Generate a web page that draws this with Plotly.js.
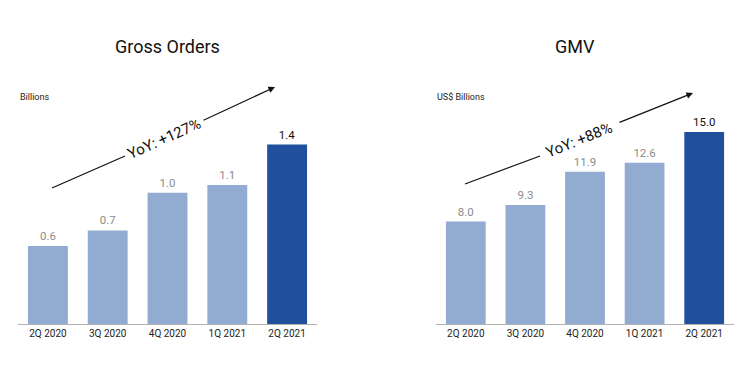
<!DOCTYPE html>
<html>
<head>
<meta charset="utf-8">
<script src="https://cdn.plot.ly/plotly-3.0.1.min.js"></script>
<style>html,body{margin:0;padding:0;background:#fff}#chart{width:742px;height:369px}</style>
</head>
<body>
<div id="chart"></div>
<script>
// Data
const quarters = ["2Q 2020", "3Q 2020", "4Q 2020", "1Q 2021", "2Q 2021"];
const grossOrders = [0.60, 0.72, 1.01, 1.07, 1.38];   // Billions
const gmv = [8.0, 9.3, 11.9, 12.6, 15.0];               // US$ Billions
const titles = ["Gross Orders", "GMV"];
const units = ["Billions", "US$ Billions"];
const yoy = ["YoY: +127%", "YoY: +88%"];

const W = 742, H = 369;
const px = x => x / W;
const py = y => 1 - y / H;

const light = "#92abd0", dark = "#1f4f9d";
const barColors = quarters.map((q, i) => i === quarters.length - 1 ? dark : light);
const textColors = quarters.map((q, i) => i === quarters.length - 1 ? "#111111" : "#8c8c8c");
const FONT = "Roboto, 'Open Sans', sans-serif";

const traces = [
  {type: "bar", x: quarters, y: grossOrders, xaxis: "x", yaxis: "y",
   marker: {color: barColors}, texttemplate: "%{y:.1f}", textposition: "outside",
   textfont: {color: textColors, size: 11.5, family: FONT}, cliponaxis: false, hoverinfo: "none"},
  {type: "bar", x: quarters, y: gmv, xaxis: "x2", yaxis: "y2",
   marker: {color: barColors}, texttemplate: "%{y:.1f}", textposition: "outside",
   textfont: {color: textColors, size: 11.5, family: FONT}, cliponaxis: false, hoverinfo: "none"}
];

const xCommon = {showline: true, linecolor: "#b0b0b0", linewidth: 1, ticks: "", showgrid: false,
  zeroline: false, tickfont: {size: 10, color: "#222", family: FONT}, fixedrange: true};
const yCommon = {visible: false, showgrid: false, zeroline: false, fixedrange: true,
  domain: [py(324), py(100)]};

function arrowParts(start, brk, resume, tip, label, angle, xref) {
  return {
    shape: {type: "line", xref: "paper", yref: "paper", x0: px(start[0]), y0: py(start[1]),
            x1: px(brk[0]), y1: py(brk[1]), line: {color: "#111", width: 1.2}},
    anns: [
      {xref: "paper", yref: "paper", x: px(tip[0]), y: py(tip[1]), text: "", showarrow: true,
       ax: resume[0] - tip[0], ay: resume[1] - tip[1], arrowhead: 2, arrowsize: 1.1, arrowwidth: 1.2, arrowcolor: "#111"},
      {xref: "paper", yref: "paper", x: px((brk[0] + resume[0]) / 2), y: py((brk[1] + resume[1]) / 2),
       text: label, showarrow: false, textangle: angle, xanchor: "center", yanchor: "middle",
       font: {size: 15, color: "#111", family: FONT}}
    ]
  };
}

const a1 = arrowParts([52, 188], [125, 156], [202, 121], [275, 87], yoy[0], -24);
const a2 = arrowParts([465, 184], [540, 156], [618, 123], [693, 93], yoy[1], -22);

const layout = {
  width: W, height: H, margin: {l: 0, r: 0, t: 0, b: 0},
  paper_bgcolor: "#fff", plot_bgcolor: "#fff", showlegend: false, bargap: 0.333,
  font: {family: FONT},
  xaxis: Object.assign({}, xCommon, {domain: [px(18), px(317)], anchor: "y"}),
  xaxis2: Object.assign({}, xCommon, {domain: [px(436), px(734)], anchor: "y2"}),
  yaxis: Object.assign({}, yCommon, {range: [0, 224 / 130], anchor: "x"}),
  yaxis2: Object.assign({}, yCommon, {range: [0, 224 / 12.8], anchor: "x2"}),
  shapes: [a1.shape, a2.shape],
  annotations: [
    {xref: "paper", yref: "paper", x: px(167), y: py(46), text: titles[0], showarrow: false,
     xanchor: "center", yanchor: "middle", font: {size: 18, color: "#111", family: FONT}},
    {xref: "paper", yref: "paper", x: px(575), y: py(46), text: titles[1], showarrow: false,
     xanchor: "center", yanchor: "middle", font: {size: 18, color: "#111", family: FONT}},
    {xref: "paper", yref: "paper", x: px(18), y: py(97), text: units[0], showarrow: false,
     xanchor: "left", yanchor: "middle", font: {size: 9, color: "#222", family: FONT}},
    {xref: "paper", yref: "paper", x: px(435), y: py(97), text: units[1], showarrow: false,
     xanchor: "left", yanchor: "middle", font: {size: 9, color: "#222", family: FONT}}
  ].concat(a1.anns, a2.anns)
};

Plotly.newPlot("chart", traces, layout, {displayModeBar: false, staticPlot: true});
</script>
</body>
</html>
